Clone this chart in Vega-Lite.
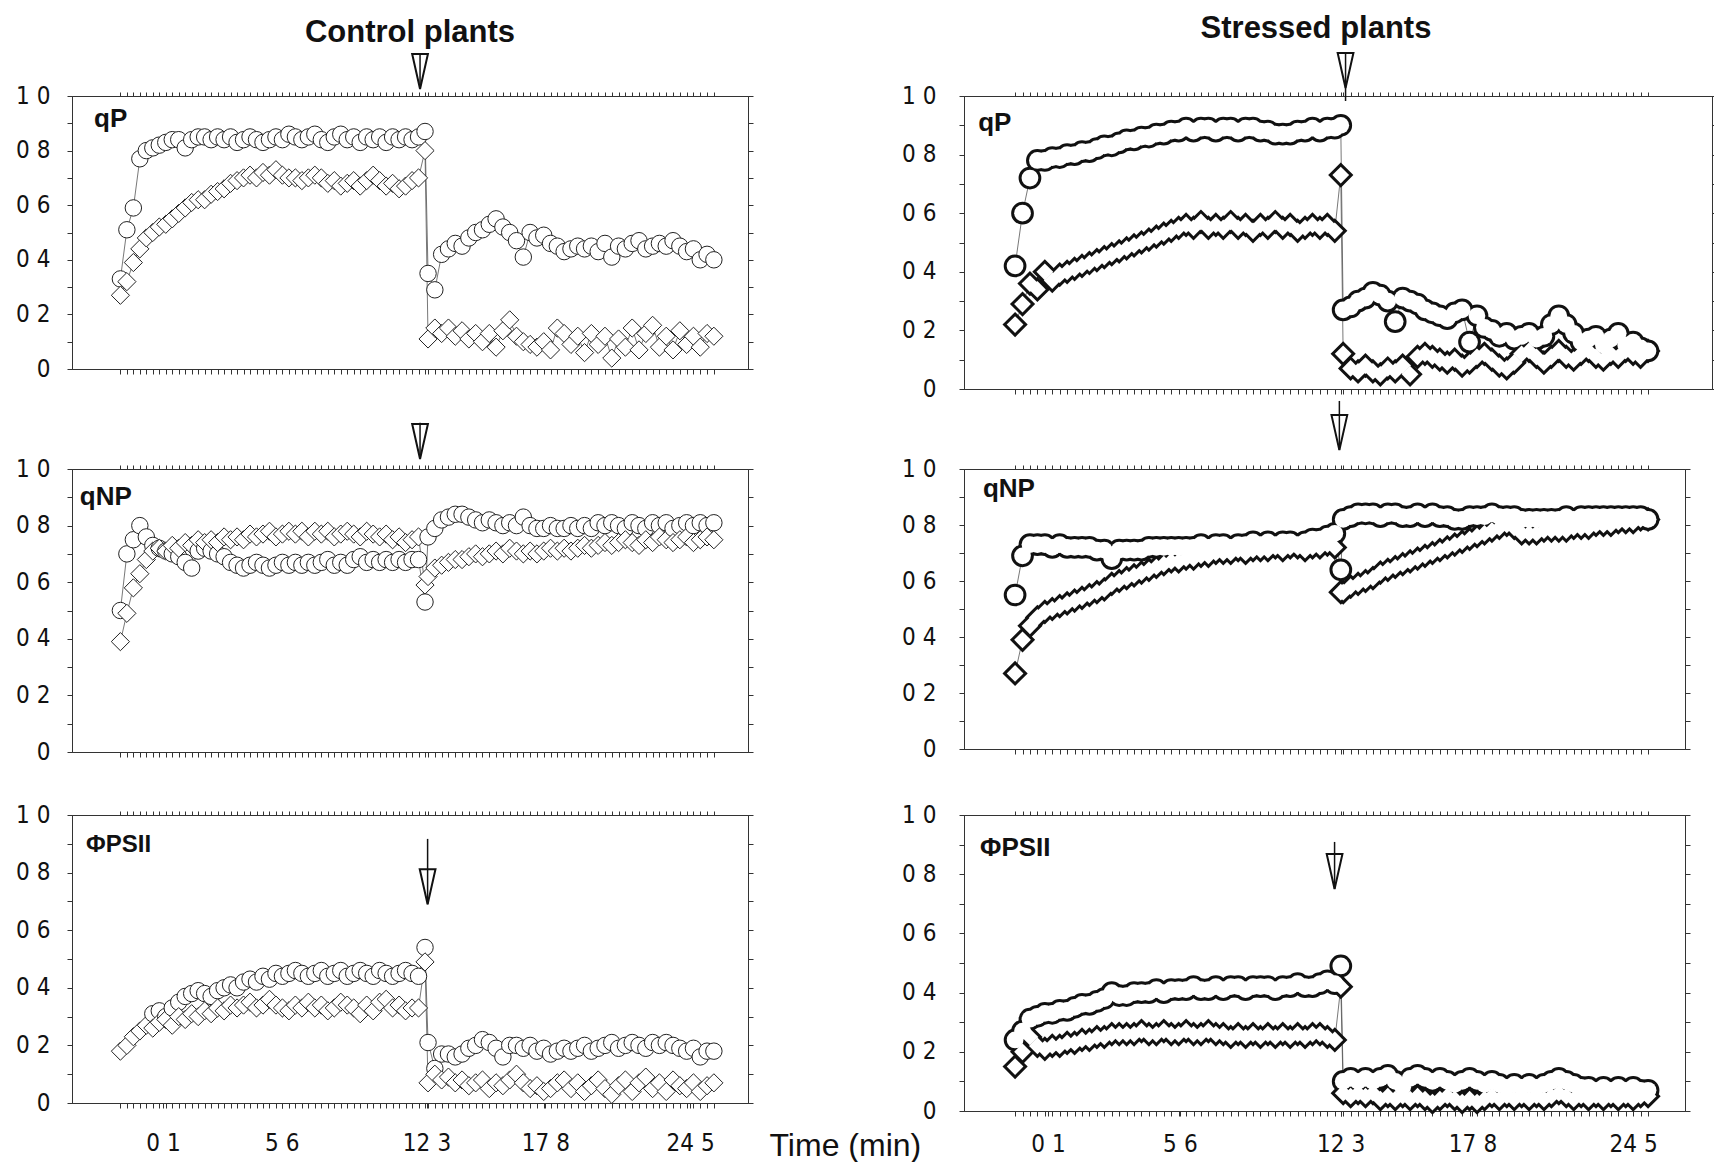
{
"$schema": "https://vega.github.io/schema/vega-lite/v6.json",
"autosize": {"type": "pad"},
"padding": {"left": 14, "top": 12, "right": 0, "bottom": 0},
"background": "white",
"config": {
 "view": {"stroke": "#333", "strokeWidth": 1},
 "axis": {"grid": false, "domainColor": "#333", "tickColor": "#333", "labelColor": "#111", "labelFont": "Liberation Sans Narrow, DejaVu Sans Condensed, Liberation Sans, sans-serif", "labelFontWeight": "normal", "labelOverlap": false, "labelFlush": false, "titleColor": "#111"}
},
"datasets": {
 "cqp": [
{"t":-1.87,"o":0.33,"d":0.27},{"t":-1.57,"o":0.51,"d":0.32},{"t":-1.27,"o":0.59,"d":0.39},{"t":-0.97,"o":0.77,"d":0.44},{"t":-0.67,"o":0.8,"d":0.48},{"t":-0.37,"o":0.81,"d":0.5},{"t":-0.07,"o":0.82,"d":0.52},{"t":0.23,"o":0.83,"d":0.53},{"t":0.53,"o":0.84,"d":0.55},{"t":0.83,"o":0.84,"d":0.57},{"t":1.13,"o":0.81,"d":0.59},{"t":1.43,"o":0.84,"d":0.61},{"t":1.73,"o":0.85,"d":0.62},{"t":2.03,"o":0.85,"d":0.62},{"t":2.33,"o":0.84,"d":0.64},{"t":2.63,"o":0.85,"d":0.65},{"t":2.93,"o":0.84,"d":0.66},{"t":3.23,"o":0.85,"d":0.68},{"t":3.53,"o":0.83,"d":0.69},{"t":3.83,"o":0.84,"d":0.7},{"t":4.13,"o":0.85,"d":0.71},{"t":4.43,"o":0.84,"d":0.7},{"t":4.73,"o":0.83,"d":0.72},{"t":5.03,"o":0.84,"d":0.71},{"t":5.33,"o":0.85,"d":0.73},{"t":5.63,"o":0.84,"d":0.71},{"t":5.93,"o":0.86,"d":0.7},{"t":6.23,"o":0.85,"d":0.7},{"t":6.53,"o":0.84,"d":0.69},{"t":6.83,"o":0.85,"d":0.7},{"t":7.13,"o":0.86,"d":0.71},{"t":7.43,"o":0.84,"d":0.7},{"t":7.73,"o":0.83,"d":0.68},{"t":8.03,"o":0.85,"d":0.69},{"t":8.33,"o":0.86,"d":0.67},{"t":8.63,"o":0.84,"d":0.68},{"t":8.93,"o":0.85,"d":0.69},{"t":9.23,"o":0.83,"d":0.67},{"t":9.53,"o":0.85,"d":0.69},{"t":9.83,"o":0.84,"d":0.71},{"t":10.13,"o":0.85,"d":0.69},{"t":10.43,"o":0.83,"d":0.67},{"t":10.73,"o":0.85,"d":0.68},{"t":11.03,"o":0.84,"d":0.66},{"t":11.33,"o":0.85,"d":0.67},{"t":11.63,"o":0.84,"d":0.69},{"t":11.93,"o":0.85,"d":0.7},{"t":12.23,"o":0.87,"d":0.8},
{"t":12.37,"o":0.35,"d":0.11},{"t":12.685,"o":0.29,"d":0.15},{"t":13.0,"o":0.42,"d":0.13},{"t":13.315,"o":0.44,"d":0.15},{"t":13.63,"o":0.46,"d":0.12},{"t":13.945,"o":0.45,"d":0.14},{"t":14.26,"o":0.48,"d":0.11},{"t":14.575,"o":0.5,"d":0.13},{"t":14.89,"o":0.51,"d":0.1},{"t":15.205,"o":0.53,"d":0.13},{"t":15.52,"o":0.55,"d":0.08},{"t":15.835,"o":0.52,"d":0.14},{"t":16.15,"o":0.5,"d":0.18},{"t":16.465,"o":0.47,"d":0.12},{"t":16.78,"o":0.41,"d":0.1},{"t":17.095,"o":0.5,"d":0.09},{"t":17.41,"o":0.48,"d":0.08},{"t":17.725,"o":0.49,"d":0.1},{"t":18.04,"o":0.46,"d":0.07},{"t":18.355,"o":0.45,"d":0.15},{"t":18.67,"o":0.43,"d":0.13},{"t":18.985,"o":0.44,"d":0.09},{"t":19.3,"o":0.45,"d":0.12},{"t":19.615,"o":0.44,"d":0.06},{"t":19.93,"o":0.45,"d":0.13},{"t":20.245,"o":0.43,"d":0.09},{"t":20.56,"o":0.46,"d":0.12},{"t":20.875,"o":0.41,"d":0.04},{"t":21.19,"o":0.45,"d":0.11},{"t":21.505,"o":0.44,"d":0.08},{"t":21.82,"o":0.46,"d":0.15},{"t":22.135,"o":0.47,"d":0.07},{"t":22.45,"o":0.44,"d":0.13},{"t":22.765,"o":0.45,"d":0.16},{"t":23.08,"o":0.46,"d":0.08},{"t":23.395,"o":0.45,"d":0.12},{"t":23.71,"o":0.47,"d":0.07},{"t":24.025,"o":0.45,"d":0.14},{"t":24.34,"o":0.43,"d":0.09},{"t":24.655,"o":0.44,"d":0.12},{"t":24.97,"o":0.4,"d":0.08},{"t":25.285,"o":0.42,"d":0.13},{"t":25.6,"o":0.4,"d":0.12}
 ],
 "cqnp": [
{"t":-1.87,"o":0.5,"d":0.39},{"t":-1.57,"o":0.7,"d":0.49},{"t":-1.27,"o":0.75,"d":0.58},{"t":-0.97,"o":0.8,"d":0.63},{"t":-0.67,"o":0.76,"d":0.68},{"t":-0.37,"o":0.73,"d":0.71},{"t":-0.07,"o":0.72,"d":0.72},{"t":0.23,"o":0.71,"d":0.71},{"t":0.53,"o":0.7,"d":0.73},{"t":0.83,"o":0.69,"d":0.72},{"t":1.13,"o":0.67,"d":0.74},{"t":1.43,"o":0.65,"d":0.73},{"t":1.73,"o":0.71,"d":0.75},{"t":2.03,"o":0.72,"d":0.74},{"t":2.33,"o":0.71,"d":0.75},{"t":2.63,"o":0.7,"d":0.74},{"t":2.93,"o":0.69,"d":0.76},{"t":3.23,"o":0.67,"d":0.75},{"t":3.53,"o":0.66,"d":0.76},{"t":3.83,"o":0.65,"d":0.75},{"t":4.13,"o":0.66,"d":0.77},{"t":4.43,"o":0.67,"d":0.76},{"t":4.73,"o":0.66,"d":0.77},{"t":5.03,"o":0.65,"d":0.78},{"t":5.33,"o":0.66,"d":0.76},{"t":5.63,"o":0.67,"d":0.77},{"t":5.93,"o":0.66,"d":0.78},{"t":6.23,"o":0.67,"d":0.77},{"t":6.53,"o":0.66,"d":0.78},{"t":6.83,"o":0.67,"d":0.76},{"t":7.13,"o":0.66,"d":0.78},{"t":7.43,"o":0.67,"d":0.77},{"t":7.73,"o":0.68,"d":0.78},{"t":8.03,"o":0.66,"d":0.76},{"t":8.33,"o":0.67,"d":0.77},{"t":8.63,"o":0.66,"d":0.78},{"t":8.93,"o":0.68,"d":0.77},{"t":9.23,"o":0.69,"d":0.76},{"t":9.53,"o":0.67,"d":0.78},{"t":9.83,"o":0.68,"d":0.77},{"t":10.13,"o":0.67,"d":0.76},{"t":10.43,"o":0.68,"d":0.77},{"t":10.73,"o":0.67,"d":0.75},{"t":11.03,"o":0.68,"d":0.76},{"t":11.33,"o":0.67,"d":0.74},{"t":11.63,"o":0.68,"d":0.75},{"t":11.93,"o":0.68,"d":0.76},{"t":12.23,"o":0.53,"d":0.59},
{"t":12.37,"o":0.76,"d":0.62},{"t":12.685,"o":0.79,"d":0.65},{"t":13.0,"o":0.82,"d":0.66},{"t":13.315,"o":0.83,"d":0.67},{"t":13.63,"o":0.84,"d":0.68},{"t":13.945,"o":0.84,"d":0.68},{"t":14.26,"o":0.83,"d":0.69},{"t":14.575,"o":0.82,"d":0.7},{"t":14.89,"o":0.81,"d":0.69},{"t":15.205,"o":0.82,"d":0.7},{"t":15.52,"o":0.81,"d":0.71},{"t":15.835,"o":0.8,"d":0.7},{"t":16.15,"o":0.81,"d":0.72},{"t":16.465,"o":0.8,"d":0.71},{"t":16.78,"o":0.83,"d":0.7},{"t":17.095,"o":0.8,"d":0.71},{"t":17.41,"o":0.79,"d":0.7},{"t":17.725,"o":0.79,"d":0.71},{"t":18.04,"o":0.8,"d":0.72},{"t":18.355,"o":0.79,"d":0.71},{"t":18.67,"o":0.79,"d":0.72},{"t":18.985,"o":0.8,"d":0.71},{"t":19.3,"o":0.79,"d":0.72},{"t":19.615,"o":0.8,"d":0.73},{"t":19.93,"o":0.79,"d":0.72},{"t":20.245,"o":0.81,"d":0.73},{"t":20.56,"o":0.8,"d":0.74},{"t":20.875,"o":0.81,"d":0.73},{"t":21.19,"o":0.8,"d":0.74},{"t":21.505,"o":0.79,"d":0.75},{"t":21.82,"o":0.81,"d":0.74},{"t":22.135,"o":0.8,"d":0.73},{"t":22.45,"o":0.79,"d":0.75},{"t":22.765,"o":0.81,"d":0.74},{"t":23.08,"o":0.8,"d":0.76},{"t":23.395,"o":0.81,"d":0.75},{"t":23.71,"o":0.79,"d":0.74},{"t":24.025,"o":0.8,"d":0.75},{"t":24.34,"o":0.81,"d":0.76},{"t":24.655,"o":0.8,"d":0.74},{"t":24.97,"o":0.81,"d":0.75},{"t":25.285,"o":0.8,"d":0.76},{"t":25.6,"o":0.81,"d":0.75}
 ],
 "cps": [
{"t":-1.87,"o":null,"d":0.18},{"t":-1.57,"o":null,"d":0.2},{"t":-1.27,"o":null,"d":0.23},{"t":-0.97,"o":null,"d":0.25},{"t":-0.67,"o":null,"d":0.27},{"t":-0.37,"o":0.31,"d":0.26},{"t":-0.07,"o":0.32,"d":0.28},{"t":0.23,"o":0.3,"d":0.29},{"t":0.53,"o":0.33,"d":0.27},{"t":0.83,"o":0.35,"d":0.3},{"t":1.13,"o":0.37,"d":0.29},{"t":1.43,"o":0.38,"d":0.31},{"t":1.73,"o":0.39,"d":0.3},{"t":2.03,"o":0.38,"d":0.32},{"t":2.33,"o":0.37,"d":0.31},{"t":2.63,"o":0.39,"d":0.33},{"t":2.93,"o":0.4,"d":0.32},{"t":3.23,"o":0.41,"d":0.34},{"t":3.53,"o":0.4,"d":0.33},{"t":3.83,"o":0.42,"d":0.34},{"t":4.13,"o":0.43,"d":0.35},{"t":4.43,"o":0.42,"d":0.33},{"t":4.73,"o":0.44,"d":0.34},{"t":5.03,"o":0.43,"d":0.36},{"t":5.33,"o":0.45,"d":0.34},{"t":5.63,"o":0.44,"d":0.33},{"t":5.93,"o":0.45,"d":0.32},{"t":6.23,"o":0.46,"d":0.34},{"t":6.53,"o":0.45,"d":0.33},{"t":6.83,"o":0.44,"d":0.35},{"t":7.13,"o":0.45,"d":0.33},{"t":7.43,"o":0.46,"d":0.34},{"t":7.73,"o":0.44,"d":0.32},{"t":8.03,"o":0.45,"d":0.33},{"t":8.33,"o":0.46,"d":0.35},{"t":8.63,"o":0.44,"d":0.34},{"t":8.93,"o":0.45,"d":0.33},{"t":9.23,"o":0.46,"d":0.31},{"t":9.53,"o":0.45,"d":0.34},{"t":9.83,"o":0.44,"d":0.32},{"t":10.13,"o":0.46,"d":0.35},{"t":10.43,"o":0.45,"d":0.36},{"t":10.73,"o":0.44,"d":0.33},{"t":11.03,"o":0.45,"d":0.34},{"t":11.33,"o":0.46,"d":0.32},{"t":11.63,"o":0.45,"d":0.33},{"t":11.93,"o":0.44,"d":0.33},{"t":12.23,"o":0.54,"d":0.49},
{"t":12.37,"o":0.21,"d":0.07},{"t":12.685,"o":0.12,"d":0.1},{"t":13.0,"o":0.17,"d":0.08},{"t":13.315,"o":0.17,"d":0.09},{"t":13.63,"o":0.16,"d":0.07},{"t":13.945,"o":0.17,"d":0.08},{"t":14.26,"o":0.19,"d":0.06},{"t":14.575,"o":0.2,"d":0.07},{"t":14.89,"o":0.22,"d":0.08},{"t":15.205,"o":0.21,"d":0.05},{"t":15.52,"o":0.19,"d":0.07},{"t":15.835,"o":0.16,"d":0.06},{"t":16.15,"o":0.2,"d":0.08},{"t":16.465,"o":0.2,"d":0.1},{"t":16.78,"o":0.19,"d":0.07},{"t":17.095,"o":0.2,"d":0.05},{"t":17.41,"o":0.18,"d":0.06},{"t":17.725,"o":0.19,"d":0.04},{"t":18.04,"o":0.17,"d":0.05},{"t":18.355,"o":0.18,"d":0.07},{"t":18.67,"o":0.19,"d":0.08},{"t":18.985,"o":0.18,"d":0.05},{"t":19.3,"o":0.19,"d":0.07},{"t":19.615,"o":0.2,"d":0.04},{"t":19.93,"o":0.18,"d":0.06},{"t":20.245,"o":0.19,"d":0.08},{"t":20.56,"o":0.2,"d":0.05},{"t":20.875,"o":0.21,"d":0.03},{"t":21.19,"o":0.19,"d":0.06},{"t":21.505,"o":0.2,"d":0.08},{"t":21.82,"o":0.21,"d":0.04},{"t":22.135,"o":0.2,"d":0.07},{"t":22.45,"o":0.19,"d":0.09},{"t":22.765,"o":0.21,"d":0.05},{"t":23.08,"o":0.2,"d":0.07},{"t":23.395,"o":0.21,"d":0.04},{"t":23.71,"o":0.2,"d":0.08},{"t":24.025,"o":0.19,"d":0.06},{"t":24.34,"o":0.18,"d":0.05},{"t":24.655,"o":0.19,"d":0.07},{"t":24.97,"o":0.16,"d":0.04},{"t":25.285,"o":0.18,"d":0.06},{"t":25.6,"o":0.18,"d":0.07}
 ],
 "sqp": [
{"t":-1.27,"o":0.42,"d":0.22},{"t":-0.96,"o":0.6,"d":0.29},{"t":-0.65,"o":0.72,"d":0.36},{"t":-0.34,"o":0.78,"d":0.34},{"t":-0.03,"o":0.78,"d":0.4},{"t":0.28,"o":0.79,"d":0.37},{"t":0.59,"o":0.79,"d":0.39},{"t":0.9,"o":0.8,"d":0.4},{"t":1.21,"o":0.8,"d":0.41},{"t":1.52,"o":0.81,"d":0.42},{"t":1.83,"o":0.81,"d":0.43},{"t":2.14,"o":0.82,"d":0.44},{"t":2.45,"o":0.83,"d":0.45},{"t":2.76,"o":0.83,"d":0.46},{"t":3.07,"o":0.84,"d":0.47},{"t":3.38,"o":0.85,"d":0.48},{"t":3.69,"o":0.85,"d":0.49},{"t":4.0,"o":0.86,"d":0.5},{"t":4.31,"o":0.86,"d":0.51},{"t":4.62,"o":0.87,"d":0.52},{"t":4.93,"o":0.87,"d":0.53},{"t":5.24,"o":0.88,"d":0.54},{"t":5.55,"o":0.88,"d":0.55},{"t":5.86,"o":0.89,"d":0.56},{"t":6.17,"o":0.88,"d":0.55},{"t":6.48,"o":0.89,"d":0.57},{"t":6.79,"o":0.89,"d":0.55},{"t":7.1,"o":0.88,"d":0.56},{"t":7.41,"o":0.89,"d":0.55},{"t":7.72,"o":0.89,"d":0.57},{"t":8.03,"o":0.88,"d":0.55},{"t":8.34,"o":0.89,"d":0.56},{"t":8.65,"o":0.89,"d":0.54},{"t":8.96,"o":0.88,"d":0.56},{"t":9.27,"o":0.88,"d":0.55},{"t":9.58,"o":0.87,"d":0.57},{"t":9.89,"o":0.87,"d":0.55},{"t":10.2,"o":0.87,"d":0.56},{"t":10.51,"o":0.88,"d":0.54},{"t":10.82,"o":0.88,"d":0.55},{"t":11.13,"o":0.89,"d":0.56},{"t":11.44,"o":0.88,"d":0.55},{"t":11.75,"o":0.89,"d":0.56},{"t":12.06,"o":0.89,"d":0.54},{"t":12.31,"o":0.9,"d":0.73},
{"t":12.41,"o":0.27,"d":0.12},{"t":12.72,"o":0.28,"d":0.07},{"t":13.03,"o":0.3,"d":0.06},{"t":13.34,"o":0.31,"d":0.08},{"t":13.65,"o":0.33,"d":0.06},{"t":13.96,"o":0.32,"d":0.05},{"t":14.27,"o":0.3,"d":0.07},{"t":14.58,"o":0.23,"d":0.06},{"t":14.89,"o":0.31,"d":0.08},{"t":15.2,"o":0.3,"d":0.05},{"t":15.51,"o":0.29,"d":0.11},{"t":15.82,"o":0.27,"d":0.12},{"t":16.13,"o":0.26,"d":0.11},{"t":16.44,"o":0.25,"d":0.1},{"t":16.75,"o":0.24,"d":0.09},{"t":17.06,"o":0.26,"d":0.1},{"t":17.37,"o":0.27,"d":0.08},{"t":17.68,"o":0.16,"d":0.09},{"t":17.99,"o":0.25,"d":0.11},{"t":18.3,"o":0.21,"d":0.12},{"t":18.61,"o":0.2,"d":0.1},{"t":18.92,"o":0.18,"d":0.08},{"t":19.23,"o":0.19,"d":0.07},{"t":19.54,"o":0.17,"d":0.09},{"t":19.85,"o":0.18,"d":0.12},{"t":20.16,"o":0.19,"d":0.13},{"t":20.47,"o":0.17,"d":0.11},{"t":20.78,"o":0.18,"d":0.09},{"t":21.09,"o":0.22,"d":0.11},{"t":21.4,"o":0.25,"d":0.13},{"t":21.71,"o":0.22,"d":0.11},{"t":22.02,"o":0.19,"d":0.1},{"t":22.33,"o":0.16,"d":0.12},{"t":22.64,"o":0.17,"d":0.13},{"t":22.95,"o":0.18,"d":0.11},{"t":23.26,"o":0.15,"d":0.1},{"t":23.57,"o":0.17,"d":0.12},{"t":23.88,"o":0.19,"d":0.11},{"t":24.19,"o":0.15,"d":0.13},{"t":24.5,"o":0.16,"d":0.12},{"t":24.81,"o":0.14,"d":0.11},{"t":25.12,"o":0.13,"d":0.13}
 ],
 "sqnp": [
{"t":-1.27,"o":0.55,"d":0.27},{"t":-0.96,"o":0.69,"d":0.39},{"t":-0.65,"o":0.73,"d":0.44},{"t":-0.34,"o":0.73,"d":0.47},{"t":-0.03,"o":0.73,"d":0.49},{"t":0.28,"o":0.72,"d":0.5},{"t":0.59,"o":0.73,"d":0.51},{"t":0.9,"o":0.72,"d":0.52},{"t":1.21,"o":0.72,"d":0.53},{"t":1.52,"o":0.72,"d":0.54},{"t":1.83,"o":0.72,"d":0.55},{"t":2.14,"o":0.71,"d":0.56},{"t":2.45,"o":0.71,"d":0.57},{"t":2.76,"o":0.68,"d":0.59},{"t":3.07,"o":0.71,"d":0.6},{"t":3.38,"o":0.71,"d":0.61},{"t":3.69,"o":0.71,"d":0.62},{"t":4.0,"o":0.71,"d":0.63},{"t":4.31,"o":0.72,"d":0.64},{"t":4.62,"o":0.72,"d":0.65},{"t":4.93,"o":0.72,"d":0.66},{"t":5.24,"o":0.72,"d":0.67},{"t":5.55,"o":0.72,"d":0.67},{"t":5.86,"o":0.72,"d":0.68},{"t":6.17,"o":0.72,"d":0.68},{"t":6.48,"o":0.73,"d":0.69},{"t":6.79,"o":0.72,"d":0.69},{"t":7.1,"o":0.73,"d":0.7},{"t":7.41,"o":0.73,"d":0.7},{"t":7.72,"o":0.72,"d":0.7},{"t":8.03,"o":0.73,"d":0.71},{"t":8.34,"o":0.73,"d":0.7},{"t":8.65,"o":0.74,"d":0.71},{"t":8.96,"o":0.73,"d":0.71},{"t":9.27,"o":0.74,"d":0.71},{"t":9.58,"o":0.73,"d":0.72},{"t":9.89,"o":0.74,"d":0.71},{"t":10.2,"o":0.74,"d":0.72},{"t":10.51,"o":0.73,"d":0.72},{"t":10.82,"o":0.74,"d":0.71},{"t":11.13,"o":0.75,"d":0.72},{"t":11.44,"o":0.75,"d":0.72},{"t":11.75,"o":0.76,"d":0.73},{"t":12.06,"o":0.77,"d":0.72},{"t":12.31,"o":0.64,"d":0.56},
{"t":12.41,"o":0.82,"d":0.56},{"t":12.72,"o":0.83,"d":0.58},{"t":13.03,"o":0.84,"d":0.59},{"t":13.34,"o":0.84,"d":0.6},{"t":13.65,"o":0.84,"d":0.61},{"t":13.96,"o":0.83,"d":0.63},{"t":14.27,"o":0.84,"d":0.64},{"t":14.58,"o":0.84,"d":0.65},{"t":14.89,"o":0.83,"d":0.66},{"t":15.2,"o":0.83,"d":0.67},{"t":15.51,"o":0.84,"d":0.68},{"t":15.82,"o":0.83,"d":0.69},{"t":16.13,"o":0.84,"d":0.7},{"t":16.44,"o":0.83,"d":0.71},{"t":16.75,"o":0.83,"d":0.72},{"t":17.06,"o":0.82,"d":0.73},{"t":17.37,"o":0.82,"d":0.74},{"t":17.68,"o":0.83,"d":0.75},{"t":17.99,"o":0.83,"d":0.76},{"t":18.3,"o":0.83,"d":0.77},{"t":18.61,"o":0.84,"d":0.78},{"t":18.92,"o":0.83,"d":0.79},{"t":19.23,"o":0.83,"d":0.8},{"t":19.54,"o":0.83,"d":0.79},{"t":19.85,"o":0.82,"d":0.77},{"t":20.16,"o":0.82,"d":0.77},{"t":20.47,"o":0.82,"d":0.77},{"t":20.78,"o":0.82,"d":0.78},{"t":21.09,"o":0.82,"d":0.78},{"t":21.4,"o":0.82,"d":0.78},{"t":21.71,"o":0.83,"d":0.78},{"t":22.02,"o":0.82,"d":0.79},{"t":22.33,"o":0.83,"d":0.79},{"t":22.64,"o":0.83,"d":0.79},{"t":22.95,"o":0.83,"d":0.8},{"t":23.26,"o":0.83,"d":0.8},{"t":23.57,"o":0.83,"d":0.8},{"t":23.88,"o":0.83,"d":0.81},{"t":24.19,"o":0.83,"d":0.81},{"t":24.5,"o":0.83,"d":0.81},{"t":24.81,"o":0.83,"d":0.82},{"t":25.12,"o":0.82,"d":0.82}
 ],
 "sps": [
{"t":-1.27,"o":0.24,"d":0.15},{"t":-0.96,"o":0.27,"d":0.2},{"t":-0.65,"o":0.31,"d":0.25},{"t":-0.34,"o":0.32,"d":0.22},{"t":-0.03,"o":0.33,"d":0.21},{"t":0.28,"o":0.33,"d":0.22},{"t":0.59,"o":0.34,"d":0.22},{"t":0.9,"o":0.34,"d":0.23},{"t":1.21,"o":0.35,"d":0.23},{"t":1.52,"o":0.36,"d":0.24},{"t":1.83,"o":0.36,"d":0.24},{"t":2.14,"o":0.37,"d":0.25},{"t":2.45,"o":0.38,"d":0.25},{"t":2.76,"o":0.4,"d":0.26},{"t":3.07,"o":0.39,"d":0.26},{"t":3.38,"o":0.39,"d":0.26},{"t":3.69,"o":0.4,"d":0.26},{"t":4.0,"o":0.4,"d":0.27},{"t":4.31,"o":0.4,"d":0.26},{"t":4.62,"o":0.41,"d":0.26},{"t":4.93,"o":0.4,"d":0.27},{"t":5.24,"o":0.41,"d":0.26},{"t":5.55,"o":0.41,"d":0.26},{"t":5.86,"o":0.41,"d":0.27},{"t":6.17,"o":0.42,"d":0.26},{"t":6.48,"o":0.41,"d":0.26},{"t":6.79,"o":0.41,"d":0.27},{"t":7.1,"o":0.42,"d":0.26},{"t":7.41,"o":0.41,"d":0.26},{"t":7.72,"o":0.42,"d":0.25},{"t":8.03,"o":0.42,"d":0.26},{"t":8.34,"o":0.41,"d":0.25},{"t":8.65,"o":0.42,"d":0.26},{"t":8.96,"o":0.42,"d":0.25},{"t":9.27,"o":0.42,"d":0.26},{"t":9.58,"o":0.41,"d":0.25},{"t":9.89,"o":0.42,"d":0.26},{"t":10.2,"o":0.42,"d":0.25},{"t":10.51,"o":0.43,"d":0.26},{"t":10.82,"o":0.42,"d":0.25},{"t":11.13,"o":0.42,"d":0.26},{"t":11.44,"o":0.43,"d":0.26},{"t":11.75,"o":0.44,"d":0.25},{"t":12.06,"o":0.43,"d":0.24},{"t":12.31,"o":0.49,"d":0.42},
{"t":12.41,"o":0.1,"d":0.06},{"t":12.72,"o":0.11,"d":0.05},{"t":13.03,"o":0.1,"d":0.06},{"t":13.34,"o":0.11,"d":0.05},{"t":13.65,"o":0.1,"d":0.06},{"t":13.96,"o":0.11,"d":0.04},{"t":14.27,"o":0.12,"d":0.05},{"t":14.58,"o":0.1,"d":0.04},{"t":14.89,"o":0.08,"d":0.05},{"t":15.2,"o":0.11,"d":0.04},{"t":15.51,"o":0.12,"d":0.05},{"t":15.82,"o":0.11,"d":0.04},{"t":16.13,"o":0.1,"d":0.03},{"t":16.44,"o":0.11,"d":0.04},{"t":16.75,"o":0.1,"d":0.05},{"t":17.06,"o":0.09,"d":0.04},{"t":17.37,"o":0.1,"d":0.03},{"t":17.68,"o":0.11,"d":0.04},{"t":17.99,"o":0.1,"d":0.03},{"t":18.3,"o":0.09,"d":0.04},{"t":18.61,"o":0.1,"d":0.05},{"t":18.92,"o":0.09,"d":0.04},{"t":19.23,"o":0.08,"d":0.05},{"t":19.54,"o":0.09,"d":0.04},{"t":19.85,"o":0.08,"d":0.05},{"t":20.16,"o":0.09,"d":0.04},{"t":20.47,"o":0.08,"d":0.05},{"t":20.78,"o":0.09,"d":0.04},{"t":21.09,"o":0.1,"d":0.05},{"t":21.4,"o":0.11,"d":0.06},{"t":21.71,"o":0.1,"d":0.05},{"t":22.02,"o":0.09,"d":0.04},{"t":22.33,"o":0.08,"d":0.05},{"t":22.64,"o":0.08,"d":0.04},{"t":22.95,"o":0.07,"d":0.05},{"t":23.26,"o":0.08,"d":0.04},{"t":23.57,"o":0.07,"d":0.05},{"t":23.88,"o":0.08,"d":0.04},{"t":24.19,"o":0.07,"d":0.05},{"t":24.5,"o":0.08,"d":0.04},{"t":24.81,"o":0.07,"d":0.05},{"t":25.12,"o":0.07,"d":0.05}
 ]
},
"columns": 2,
"spacing": {"row": 5, "column": 216},
"bounds": "flush",
"concat": [
 {
  "width": 676, "height": 273,
  "title": {"text": "Control plants", "font": "Liberation Sans", "fontSize": 31, "fontWeight": "bold", "anchor": "middle", "frame": "group", "offset": 1, "color": "#111"},
  "data": {"name": "cqp"},
  "transform": [{"fold": ["o", "d"], "as": ["s", "y"]}],
  "layer": [
   {"mark": {"type": "line", "stroke": "#555", "strokeWidth": 0.8},
    "encoding": {
     "x": {"field": "t", "type": "quantitative", "scale": {"domain": [-4.11, 27.18], "nice": false, "zero": false}, "axis": {"orient": "bottom", "values": [-1.87,-1.57,-1.27,-0.97,-0.67,-0.37,-0.07,0.23,0.53,0.83,1.13,1.43,1.73,2.03,2.33,2.63,2.93,3.23,3.53,3.83,4.13,4.43,4.73,5.03,5.33,5.63,5.93,6.23,6.53,6.83,7.13,7.43,7.73,8.03,8.33,8.63,8.93,9.23,9.53,9.83,10.13,10.43,10.73,11.03,11.33,11.63,11.93,12.23,12.37,12.685,13.0,13.315,13.63,13.945,14.26,14.575,14.89,15.205,15.52,15.835,16.15,16.465,16.78,17.095,17.41,17.725,18.04,18.355,18.67,18.985,19.3,19.615,19.93,20.245,20.56,20.875,21.19,21.505,21.82,22.135,22.45,22.765,23.08,23.395,23.71,24.025,24.34,24.655,24.97,25.285,25.6], "labels": false, "tickSize": 5, "title": null}},
     "y": {"field": "y", "type": "quantitative", "scale": {"domain": [0, 1], "nice": false, "zero": false}, "axis": {"orient": "left", "values": [0,0.1,0.2,0.3,0.4,0.5,0.6,0.7,0.8,0.9,1], "tickSize": 5, "labelPadding": 17, "labelFontSize": 24, "labelExpr": "datum.value == 0 ? '0' : (round(datum.value * 10) % 2 == 0 ? replace(format(datum.value, '.1f'), '.', '\u2004') : '')", "title": null}},
     "detail": {"field": "s", "type": "nominal"}}},
   {"mark": {"type": "point", "filled": true, "fill": "white", "stroke": "#222", "strokeWidth": 1, "opacity": 1},
    "encoding": {
     "x": {"field": "t", "type": "quantitative", "scale": {"domain": [-4.11, 27.18], "nice": false, "zero": false}, "axis": {"orient": "top", "values": [-1.87,-1.57,-1.27,-0.97,-0.67,-0.37,-0.07,0.23,0.53,0.83,1.13,1.43,1.73,2.03,2.33,2.63,2.93,3.23,3.53,3.83,4.13,4.43,4.73,5.03,5.33,5.63,5.93,6.23,6.53,6.83,7.13,7.43,7.73,8.03,8.33,8.63,8.93,9.23,9.53,9.83,10.13,10.43,10.73,11.03,11.33,11.63,11.93,12.23,12.37,12.685,13.0,13.315,13.63,13.945,14.26,14.575,14.89,15.205,15.52,15.835,16.15,16.465,16.78,17.095,17.41,17.725,18.04,18.355,18.67,18.985,19.3,19.615,19.93,20.245,20.56,20.875,21.19,21.505,21.82,22.135,22.45,22.765,23.08,23.395,23.71,24.025,24.34,24.655,24.97,25.285,25.6], "labels": false, "tickSize": 4, "title": null}},
     "y": {"field": "y", "type": "quantitative", "scale": {"domain": [0, 1], "nice": false, "zero": false}, "axis": {"orient": "right", "values": [0,0.1,0.2,0.3,0.4,0.5,0.6,0.7,0.8,0.9,1], "labels": false, "tickSize": 5, "title": null}},
     "shape": {"field": "s", "type": "nominal", "scale": {"domain": ["o", "d"], "range": ["circle", "diamond"]}, "legend": null},
     "size": {"field": "s", "type": "nominal", "scale": {"domain": ["o", "d"], "range": [270, 330]}, "legend": null}}},
   {"data": {"values": [{"t": -3.09, "y": 0.915, "label": "qP"}]},
    "mark": {"type": "text", "align": "left", "baseline": "middle", "font": "Liberation Sans", "fontSize": 26, "fontWeight": "bold", "color": "#111"},
    "encoding": {"x": {"field": "t", "type": "quantitative", "scale": {"domain": [-4.11, 27.18], "nice": false, "zero": false}, "axis": null}, "y": {"field": "y", "type": "quantitative", "scale": {"domain": [0, 1], "nice": false, "zero": false}, "axis": null}, "text": {"field": "label"}}},
   {"data": {"values": [{"t": 12.0, "y1": 1.154, "y2": 1.026, "yh": 1.09}]},
    "mark": {"type": "rule", "stroke": "#111", "strokeWidth": 1.5},
    "encoding": {"x": {"field": "t", "type": "quantitative", "scale": {"domain": [-4.11, 27.18], "nice": false, "zero": false}, "axis": null}, "y": {"field": "y1", "type": "quantitative", "scale": {"domain": [0, 1], "nice": false, "zero": false}, "axis": null}, "y2": {"field": "y2"}}},
   {"data": {"values": [{"t": 12.0, "y1": 1.154, "y2": 1.026, "yh": 1.09}]},
    "mark": {"type": "point", "shape": "M-0.45,-1L0.45,-1L0,1Z", "size": 1225, "filled": false, "stroke": "#111", "strokeWidth": 2, "opacity": 1},
    "encoding": {"x": {"field": "t", "type": "quantitative", "scale": {"domain": [-4.11, 27.18], "nice": false, "zero": false}, "axis": null}, "y": {"field": "yh", "type": "quantitative", "scale": {"domain": [0, 1], "nice": false, "zero": false}, "axis": null}}}
  ],
  "resolve": {"axis": {"x": "independent", "y": "independent"}}
 },
 {
  "width": 748, "height": 293,
  "title": {"text": "Stressed plants", "font": "Liberation Sans", "fontSize": 31, "fontWeight": "bold", "anchor": "middle", "frame": "group", "offset": 4, "dx": -22, "color": "#111"},
  "data": {"name": "sqp"},
  "transform": [{"fold": ["o", "d"], "as": ["s", "y"]}],
  "layer": [
   {"mark": {"type": "line", "stroke": "#555", "strokeWidth": 0.8},
    "encoding": {
     "x": {"field": "t", "type": "quantitative", "scale": {"domain": [-3.4, 27.79], "nice": false, "zero": false}, "axis": {"orient": "bottom", "values": [-1.27,-0.96,-0.65,-0.34,-0.03,0.28,0.59,0.9,1.21,1.52,1.83,2.14,2.45,2.76,3.07,3.38,3.69,4.0,4.31,4.62,4.93,5.24,5.55,5.86,6.17,6.48,6.79,7.1,7.41,7.72,8.03,8.34,8.65,8.96,9.27,9.58,9.89,10.2,10.51,10.82,11.13,11.44,11.75,12.06,12.31,12.41,12.72,13.03,13.34,13.65,13.96,14.27,14.58,14.89,15.2,15.51,15.82,16.13,16.44,16.75,17.06,17.37,17.68,17.99,18.3,18.61,18.92,19.23,19.54,19.85,20.16,20.47,20.78,21.09,21.4,21.71,22.02,22.33,22.64,22.95,23.26,23.57,23.88,24.19,24.5,24.81,25.12], "labels": false, "tickSize": 5, "title": null}},
     "y": {"field": "y", "type": "quantitative", "scale": {"domain": [0, 1], "nice": false, "zero": false}, "axis": {"orient": "left", "values": [0,0.1,0.2,0.3,0.4,0.5,0.6,0.7,0.8,0.9,1], "tickSize": 5, "labelPadding": 23, "labelFontSize": 24, "labelExpr": "datum.value == 0 ? '0' : (round(datum.value * 10) % 2 == 0 ? replace(format(datum.value, '.1f'), '.', '\u2004') : '')", "title": null}},
     "detail": {"field": "s", "type": "nominal"}}},
   {"mark": {"type": "point", "filled": true, "fill": "#111", "stroke": "#111", "strokeWidth": 6, "opacity": 1, "size": 280},
    "encoding": {
     "x": {"field": "t", "type": "quantitative", "scale": {"domain": [-3.4, 27.79], "nice": false, "zero": false}, "axis": {"orient": "top", "values": [-1.27,-0.96,-0.65,-0.34,-0.03,0.28,0.59,0.9,1.21,1.52,1.83,2.14,2.45,2.76,3.07,3.38,3.69,4.0,4.31,4.62,4.93,5.24,5.55,5.86,6.17,6.48,6.79,7.1,7.41,7.72,8.03,8.34,8.65,8.96,9.27,9.58,9.89,10.2,10.51,10.82,11.13,11.44,11.75,12.06,12.31,12.41,12.72,13.03,13.34,13.65,13.96,14.27,14.58,14.89,15.2,15.51,15.82,16.13,16.44,16.75,17.06,17.37,17.68,17.99,18.3,18.61,18.92,19.23,19.54,19.85,20.16,20.47,20.78,21.09,21.4,21.71,22.02,22.33,22.64,22.95,23.26,23.57,23.88,24.19,24.5,24.81,25.12], "labels": false, "tickSize": 4, "title": null}},
     "y": {"field": "y", "type": "quantitative", "scale": {"domain": [0, 1], "nice": false, "zero": false}, "axis": {"orient": "right", "values": [0,0.1,0.2,0.3,0.4,0.5,0.6,0.7,0.8,0.9,1], "labels": false, "tickSize": 4, "title": null}},
     "shape": {"field": "s", "type": "nominal", "scale": {"domain": ["o", "d"], "range": ["M-1,0A1,0.75,0,1,1,1,0A1,0.75,0,1,1,-1,0Z", "M-1,0L0,-0.9L1,0L0,0.9Z"]}, "legend": null}}},
   {"mark": {"type": "point", "filled": true, "fill": "white", "strokeWidth": 0, "opacity": 1, "size": 280},
    "encoding": {
     "x": {"field": "t", "type": "quantitative", "scale": {"domain": [-3.4, 27.79], "nice": false, "zero": false}, "axis": null},
     "y": {"field": "y", "type": "quantitative", "scale": {"domain": [0, 1], "nice": false, "zero": false}, "axis": null},
     "shape": {"field": "s", "type": "nominal", "scale": {"domain": ["o", "d"], "range": ["M-1,0A1,0.75,0,1,1,1,0A1,0.75,0,1,1,-1,0Z", "M-1,0L0,-0.9L1,0L0,0.9Z"]}, "legend": null}}},
   {"data": {"values": [{"t": -2.81, "y": 0.907, "label": "qP"}]},
    "mark": {"type": "text", "align": "left", "baseline": "middle", "font": "Liberation Sans", "fontSize": 26, "fontWeight": "bold", "color": "#111"},
    "encoding": {"x": {"field": "t", "type": "quantitative", "scale": {"domain": [-3.4, 27.79], "nice": false, "zero": false}, "axis": null}, "y": {"field": "y", "type": "quantitative", "scale": {"domain": [0, 1], "nice": false, "zero": false}, "axis": null}, "text": {"field": "label"}}},
   {"data": {"values": [{"t": 12.51, "y1": 1.147, "y2": 0.983, "yh": 1.087}]},
    "mark": {"type": "rule", "stroke": "#111", "strokeWidth": 1.5},
    "encoding": {"x": {"field": "t", "type": "quantitative", "scale": {"domain": [-3.4, 27.79], "nice": false, "zero": false}, "axis": null}, "y": {"field": "y1", "type": "quantitative", "scale": {"domain": [0, 1], "nice": false, "zero": false}, "axis": null}, "y2": {"field": "y2"}}},
   {"data": {"values": [{"t": 12.51, "y1": 1.147, "y2": 0.983, "yh": 1.087}]},
    "mark": {"type": "point", "shape": "M-0.45,-1L0.45,-1L0,1Z", "size": 1225, "filled": false, "stroke": "#111", "strokeWidth": 2, "opacity": 1},
    "encoding": {"x": {"field": "t", "type": "quantitative", "scale": {"domain": [-3.4, 27.79], "nice": false, "zero": false}, "axis": null}, "y": {"field": "yh", "type": "quantitative", "scale": {"domain": [0, 1], "nice": false, "zero": false}, "axis": null}}}
  ],
  "resolve": {"axis": {"x": "independent", "y": "independent"}}
 },
 {"width": 10, "height": 70, "data": {"values": [{"a": 1}]}, "mark": {"type": "point", "opacity": 0}, "encoding": {}, "view": {"stroke": null}},
 {"width": 10, "height": 70, "data": {"values": [{"a": 1}]}, "mark": {"type": "point", "opacity": 0}, "encoding": {}, "view": {"stroke": null}},
 {
  "width": 676, "height": 283,
  "data": {"name": "cqnp"},
  "transform": [{"fold": ["o", "d"], "as": ["s", "y"]}],
  "layer": [
   {"mark": {"type": "line", "stroke": "#555", "strokeWidth": 0.8},
    "encoding": {
     "x": {"field": "t", "type": "quantitative", "scale": {"domain": [-4.11, 27.18], "nice": false, "zero": false}, "axis": {"orient": "bottom", "values": [-1.87,-1.57,-1.27,-0.97,-0.67,-0.37,-0.07,0.23,0.53,0.83,1.13,1.43,1.73,2.03,2.33,2.63,2.93,3.23,3.53,3.83,4.13,4.43,4.73,5.03,5.33,5.63,5.93,6.23,6.53,6.83,7.13,7.43,7.73,8.03,8.33,8.63,8.93,9.23,9.53,9.83,10.13,10.43,10.73,11.03,11.33,11.63,11.93,12.23,12.37,12.685,13.0,13.315,13.63,13.945,14.26,14.575,14.89,15.205,15.52,15.835,16.15,16.465,16.78,17.095,17.41,17.725,18.04,18.355,18.67,18.985,19.3,19.615,19.93,20.245,20.56,20.875,21.19,21.505,21.82,22.135,22.45,22.765,23.08,23.395,23.71,24.025,24.34,24.655,24.97,25.285,25.6], "labels": false, "tickSize": 5, "title": null}},
     "y": {"field": "y", "type": "quantitative", "scale": {"domain": [0, 1], "nice": false, "zero": false}, "axis": {"orient": "left", "values": [0,0.1,0.2,0.3,0.4,0.5,0.6,0.7,0.8,0.9,1], "tickSize": 5, "labelPadding": 17, "labelFontSize": 24, "labelExpr": "datum.value == 0 ? '0' : (round(datum.value * 10) % 2 == 0 ? replace(format(datum.value, '.1f'), '.', '\u2004') : '')", "title": null}},
     "detail": {"field": "s", "type": "nominal"}}},
   {"mark": {"type": "point", "filled": true, "fill": "white", "stroke": "#222", "strokeWidth": 1, "opacity": 1},
    "encoding": {
     "x": {"field": "t", "type": "quantitative", "scale": {"domain": [-4.11, 27.18], "nice": false, "zero": false}, "axis": {"orient": "top", "values": [-1.87,-1.57,-1.27,-0.97,-0.67,-0.37,-0.07,0.23,0.53,0.83,1.13,1.43,1.73,2.03,2.33,2.63,2.93,3.23,3.53,3.83,4.13,4.43,4.73,5.03,5.33,5.63,5.93,6.23,6.53,6.83,7.13,7.43,7.73,8.03,8.33,8.63,8.93,9.23,9.53,9.83,10.13,10.43,10.73,11.03,11.33,11.63,11.93,12.23,12.37,12.685,13.0,13.315,13.63,13.945,14.26,14.575,14.89,15.205,15.52,15.835,16.15,16.465,16.78,17.095,17.41,17.725,18.04,18.355,18.67,18.985,19.3,19.615,19.93,20.245,20.56,20.875,21.19,21.505,21.82,22.135,22.45,22.765,23.08,23.395,23.71,24.025,24.34,24.655,24.97,25.285,25.6], "labels": false, "tickSize": 4, "title": null}},
     "y": {"field": "y", "type": "quantitative", "scale": {"domain": [0, 1], "nice": false, "zero": false}, "axis": {"orient": "right", "values": [0,0.1,0.2,0.3,0.4,0.5,0.6,0.7,0.8,0.9,1], "labels": false, "tickSize": 5, "title": null}},
     "shape": {"field": "s", "type": "nominal", "scale": {"domain": ["o", "d"], "range": ["circle", "diamond"]}, "legend": null},
     "size": {"field": "s", "type": "nominal", "scale": {"domain": ["o", "d"], "range": [270, 330]}, "legend": null}}},
   {"data": {"values": [{"t": -3.75, "y": 0.9, "label": "qNP"}]},
    "mark": {"type": "text", "align": "left", "baseline": "middle", "font": "Liberation Sans", "fontSize": 26, "fontWeight": "bold", "color": "#111"},
    "encoding": {"x": {"field": "t", "type": "quantitative", "scale": {"domain": [-4.11, 27.18], "nice": false, "zero": false}, "axis": null}, "y": {"field": "y", "type": "quantitative", "scale": {"domain": [0, 1], "nice": false, "zero": false}, "axis": null}, "text": {"field": "label"}}},
   {"data": {"values": [{"t": 12.0, "y1": 1.163, "y2": 1.035, "yh": 1.097}]},
    "mark": {"type": "rule", "stroke": "#111", "strokeWidth": 1.5},
    "encoding": {"x": {"field": "t", "type": "quantitative", "scale": {"domain": [-4.11, 27.18], "nice": false, "zero": false}, "axis": null}, "y": {"field": "y1", "type": "quantitative", "scale": {"domain": [0, 1], "nice": false, "zero": false}, "axis": null}, "y2": {"field": "y2"}}},
   {"data": {"values": [{"t": 12.0, "y1": 1.163, "y2": 1.035, "yh": 1.097}]},
    "mark": {"type": "point", "shape": "M-0.45,-1L0.45,-1L0,1Z", "size": 1225, "filled": false, "stroke": "#111", "strokeWidth": 2, "opacity": 1},
    "encoding": {"x": {"field": "t", "type": "quantitative", "scale": {"domain": [-4.11, 27.18], "nice": false, "zero": false}, "axis": null}, "y": {"field": "yh", "type": "quantitative", "scale": {"domain": [0, 1], "nice": false, "zero": false}, "axis": null}}}
  ],
  "resolve": {"axis": {"x": "independent", "y": "independent"}}
 },
 {
  "width": 721, "height": 280,
  "data": {"name": "sqnp"},
  "transform": [{"fold": ["o", "d"], "as": ["s", "y"]}],
  "layer": [
   {"mark": {"type": "line", "stroke": "#555", "strokeWidth": 0.8},
    "encoding": {
     "x": {"field": "t", "type": "quantitative", "scale": {"domain": [-3.4, 26.66], "nice": false, "zero": false}, "axis": {"orient": "bottom", "values": [-1.27,-0.96,-0.65,-0.34,-0.03,0.28,0.59,0.9,1.21,1.52,1.83,2.14,2.45,2.76,3.07,3.38,3.69,4.0,4.31,4.62,4.93,5.24,5.55,5.86,6.17,6.48,6.79,7.1,7.41,7.72,8.03,8.34,8.65,8.96,9.27,9.58,9.89,10.2,10.51,10.82,11.13,11.44,11.75,12.06,12.31,12.41,12.72,13.03,13.34,13.65,13.96,14.27,14.58,14.89,15.2,15.51,15.82,16.13,16.44,16.75,17.06,17.37,17.68,17.99,18.3,18.61,18.92,19.23,19.54,19.85,20.16,20.47,20.78,21.09,21.4,21.71,22.02,22.33,22.64,22.95,23.26,23.57,23.88,24.19,24.5,24.81,25.12], "labels": false, "tickSize": 5, "title": null}},
     "y": {"field": "y", "type": "quantitative", "scale": {"domain": [0, 1], "nice": false, "zero": false}, "axis": {"orient": "left", "values": [0,0.1,0.2,0.3,0.4,0.5,0.6,0.7,0.8,0.9,1], "tickSize": 5, "labelPadding": 23, "labelFontSize": 24, "labelExpr": "datum.value == 0 ? '0' : (round(datum.value * 10) % 2 == 0 ? replace(format(datum.value, '.1f'), '.', '\u2004') : '')", "title": null}},
     "detail": {"field": "s", "type": "nominal"}}},
   {"mark": {"type": "point", "filled": true, "fill": "#111", "stroke": "#111", "strokeWidth": 6, "opacity": 1, "size": 280},
    "encoding": {
     "x": {"field": "t", "type": "quantitative", "scale": {"domain": [-3.4, 26.66], "nice": false, "zero": false}, "axis": {"orient": "top", "values": [-1.27,-0.96,-0.65,-0.34,-0.03,0.28,0.59,0.9,1.21,1.52,1.83,2.14,2.45,2.76,3.07,3.38,3.69,4.0,4.31,4.62,4.93,5.24,5.55,5.86,6.17,6.48,6.79,7.1,7.41,7.72,8.03,8.34,8.65,8.96,9.27,9.58,9.89,10.2,10.51,10.82,11.13,11.44,11.75,12.06,12.31,12.41,12.72,13.03,13.34,13.65,13.96,14.27,14.58,14.89,15.2,15.51,15.82,16.13,16.44,16.75,17.06,17.37,17.68,17.99,18.3,18.61,18.92,19.23,19.54,19.85,20.16,20.47,20.78,21.09,21.4,21.71,22.02,22.33,22.64,22.95,23.26,23.57,23.88,24.19,24.5,24.81,25.12], "labels": false, "tickSize": 4, "title": null}},
     "y": {"field": "y", "type": "quantitative", "scale": {"domain": [0, 1], "nice": false, "zero": false}, "axis": {"orient": "right", "values": [0,0.1,0.2,0.3,0.4,0.5,0.6,0.7,0.8,0.9,1], "labels": false, "tickSize": 5, "title": null}},
     "shape": {"field": "s", "type": "nominal", "scale": {"domain": ["o", "d"], "range": ["M-1,0A1,0.75,0,1,1,1,0A1,0.75,0,1,1,-1,0Z", "M-1,0L0,-0.9L1,0L0,0.9Z"]}, "legend": null}}},
   {"mark": {"type": "point", "filled": true, "fill": "white", "strokeWidth": 0, "opacity": 1, "size": 280},
    "encoding": {
     "x": {"field": "t", "type": "quantitative", "scale": {"domain": [-3.4, 26.66], "nice": false, "zero": false}, "axis": null},
     "y": {"field": "y", "type": "quantitative", "scale": {"domain": [0, 1], "nice": false, "zero": false}, "axis": null},
     "shape": {"field": "s", "type": "nominal", "scale": {"domain": ["o", "d"], "range": ["M-1,0A1,0.75,0,1,1,1,0A1,0.75,0,1,1,-1,0Z", "M-1,0L0,-0.9L1,0L0,0.9Z"]}, "legend": null}}},
   {"data": {"values": [{"t": -2.61, "y": 0.93, "label": "qNP"}]},
    "mark": {"type": "text", "align": "left", "baseline": "middle", "font": "Liberation Sans", "fontSize": 26, "fontWeight": "bold", "color": "#111"},
    "encoding": {"x": {"field": "t", "type": "quantitative", "scale": {"domain": [-3.4, 26.66], "nice": false, "zero": false}, "axis": null}, "y": {"field": "y", "type": "quantitative", "scale": {"domain": [0, 1], "nice": false, "zero": false}, "axis": null}, "text": {"field": "label"}}},
   {"data": {"values": [{"t": 12.25, "y1": 1.243, "y2": 1.068, "yh": 1.13}]},
    "mark": {"type": "rule", "stroke": "#111", "strokeWidth": 1.5},
    "encoding": {"x": {"field": "t", "type": "quantitative", "scale": {"domain": [-3.4, 26.66], "nice": false, "zero": false}, "axis": null}, "y": {"field": "y1", "type": "quantitative", "scale": {"domain": [0, 1], "nice": false, "zero": false}, "axis": null}, "y2": {"field": "y2"}}},
   {"data": {"values": [{"t": 12.25, "y1": 1.243, "y2": 1.068, "yh": 1.13}]},
    "mark": {"type": "point", "shape": "M-0.45,-1L0.45,-1L0,1Z", "size": 1225, "filled": false, "stroke": "#111", "strokeWidth": 2, "opacity": 1},
    "encoding": {"x": {"field": "t", "type": "quantitative", "scale": {"domain": [-3.4, 26.66], "nice": false, "zero": false}, "axis": null}, "y": {"field": "yh", "type": "quantitative", "scale": {"domain": [0, 1], "nice": false, "zero": false}, "axis": null}}}
  ],
  "resolve": {"axis": {"x": "independent", "y": "independent"}}
 },
 {"width": 10, "height": 53, "data": {"values": [{"a": 1}]}, "mark": {"type": "point", "opacity": 0}, "encoding": {}, "view": {"stroke": null}},
 {"width": 10, "height": 53, "data": {"values": [{"a": 1}]}, "mark": {"type": "point", "opacity": 0}, "encoding": {}, "view": {"stroke": null}},
 {
  "width": 676, "height": 288,
  "data": {"name": "cps"},
  "transform": [{"fold": ["o", "d"], "as": ["s", "y"]}],
  "layer": [
   {"mark": {"type": "line", "stroke": "#555", "strokeWidth": 0.8},
    "encoding": {
     "x": {"field": "t", "type": "quantitative", "scale": {"domain": [-4.11, 27.18], "nice": false, "zero": false}, "axis": {"orient": "bottom", "values": [-1.87,-1.57,-1.27,-0.97,-0.67,-0.37,-0.07,0.23,0.53,0.83,1.13,1.43,1.73,2.03,2.33,2.63,2.93,3.23,3.53,3.83,4.13,4.43,4.73,5.03,5.33,5.63,5.93,6.23,6.53,6.83,7.13,7.43,7.73,8.03,8.33,8.63,8.93,9.23,9.53,9.83,10.13,10.43,10.73,11.03,11.33,11.63,11.93,12.23,12.37,12.685,13.0,13.315,13.63,13.945,14.26,14.575,14.89,15.205,15.52,15.835,16.15,16.465,16.78,17.095,17.41,17.725,18.04,18.355,18.67,18.985,19.3,19.615,19.93,20.245,20.56,20.875,21.19,21.505,21.82,22.135,22.45,22.765,23.08,23.395,23.71,24.025,24.34,24.655,24.97,25.285,25.6,0.1,5.6,12.3,17.8,24.5], "tickSize": 5, "labelPadding": 23, "labelFontSize": 24, "labelExpr": "indexof([0.1, 5.6, 12.3, 17.8, 24.5], datum.value) >= 0 ? replace(format(datum.value, '.1f'), '.', '\u2004') : ''", "title": null}},
     "y": {"field": "y", "type": "quantitative", "scale": {"domain": [0, 1], "nice": false, "zero": false}, "axis": {"orient": "left", "values": [0,0.1,0.2,0.3,0.4,0.5,0.6,0.7,0.8,0.9,1], "tickSize": 5, "labelPadding": 17, "labelFontSize": 24, "labelExpr": "datum.value == 0 ? '0' : (round(datum.value * 10) % 2 == 0 ? replace(format(datum.value, '.1f'), '.', '\u2004') : '')", "title": null}},
     "detail": {"field": "s", "type": "nominal"}}},
   {"mark": {"type": "point", "filled": true, "fill": "white", "stroke": "#222", "strokeWidth": 1, "opacity": 1},
    "encoding": {
     "x": {"field": "t", "type": "quantitative", "scale": {"domain": [-4.11, 27.18], "nice": false, "zero": false}, "axis": {"orient": "top", "values": [-1.87,-1.57,-1.27,-0.97,-0.67,-0.37,-0.07,0.23,0.53,0.83,1.13,1.43,1.73,2.03,2.33,2.63,2.93,3.23,3.53,3.83,4.13,4.43,4.73,5.03,5.33,5.63,5.93,6.23,6.53,6.83,7.13,7.43,7.73,8.03,8.33,8.63,8.93,9.23,9.53,9.83,10.13,10.43,10.73,11.03,11.33,11.63,11.93,12.23,12.37,12.685,13.0,13.315,13.63,13.945,14.26,14.575,14.89,15.205,15.52,15.835,16.15,16.465,16.78,17.095,17.41,17.725,18.04,18.355,18.67,18.985,19.3,19.615,19.93,20.245,20.56,20.875,21.19,21.505,21.82,22.135,22.45,22.765,23.08,23.395,23.71,24.025,24.34,24.655,24.97,25.285,25.6], "labels": false, "tickSize": 4, "title": null}},
     "y": {"field": "y", "type": "quantitative", "scale": {"domain": [0, 1], "nice": false, "zero": false}, "axis": {"orient": "right", "values": [0,0.1,0.2,0.3,0.4,0.5,0.6,0.7,0.8,0.9,1], "labels": false, "tickSize": 5, "title": null}},
     "shape": {"field": "s", "type": "nominal", "scale": {"domain": ["o", "d"], "range": ["circle", "diamond"]}, "legend": null},
     "size": {"field": "s", "type": "nominal", "scale": {"domain": ["o", "d"], "range": [270, 330]}, "legend": null}}},
   {"data": {"values": [{"t": -3.46, "y": 0.896, "label": "ΦPSII"}]},
    "mark": {"type": "text", "align": "left", "baseline": "middle", "font": "Liberation Sans", "fontSize": 24, "fontWeight": "bold", "color": "#111"},
    "encoding": {"x": {"field": "t", "type": "quantitative", "scale": {"domain": [-4.11, 27.18], "nice": false, "zero": false}, "axis": null}, "y": {"field": "y", "type": "quantitative", "scale": {"domain": [0, 1], "nice": false, "zero": false}, "axis": null}, "text": {"field": "label"}}},
   {"data": {"values": [{"t": 12.35, "y1": 0.917, "y2": 0.69, "yh": 0.751}]},
    "mark": {"type": "rule", "stroke": "#111", "strokeWidth": 1.5},
    "encoding": {"x": {"field": "t", "type": "quantitative", "scale": {"domain": [-4.11, 27.18], "nice": false, "zero": false}, "axis": null}, "y": {"field": "y1", "type": "quantitative", "scale": {"domain": [0, 1], "nice": false, "zero": false}, "axis": null}, "y2": {"field": "y2"}}},
   {"data": {"values": [{"t": 12.35, "y1": 0.917, "y2": 0.69, "yh": 0.751}]},
    "mark": {"type": "point", "shape": "M-0.45,-1L0.45,-1L0,1Z", "size": 1225, "filled": false, "stroke": "#111", "strokeWidth": 2, "opacity": 1},
    "encoding": {"x": {"field": "t", "type": "quantitative", "scale": {"domain": [-4.11, 27.18], "nice": false, "zero": false}, "axis": null}, "y": {"field": "yh", "type": "quantitative", "scale": {"domain": [0, 1], "nice": false, "zero": false}, "axis": null}}}
  ],
  "resolve": {"axis": {"x": "independent", "y": "independent"}}
 },
 {
  "width": 721, "height": 296,
  "data": {"name": "sps"},
  "transform": [{"fold": ["o", "d"], "as": ["s", "y"]}],
  "layer": [
   {"mark": {"type": "line", "stroke": "#555", "strokeWidth": 0.8},
    "encoding": {
     "x": {"field": "t", "type": "quantitative", "scale": {"domain": [-3.4, 26.66], "nice": false, "zero": false}, "axis": {"orient": "bottom", "values": [-1.27,-0.96,-0.65,-0.34,-0.03,0.28,0.59,0.9,1.21,1.52,1.83,2.14,2.45,2.76,3.07,3.38,3.69,4.0,4.31,4.62,4.93,5.24,5.55,5.86,6.17,6.48,6.79,7.1,7.41,7.72,8.03,8.34,8.65,8.96,9.27,9.58,9.89,10.2,10.51,10.82,11.13,11.44,11.75,12.06,12.31,12.41,12.72,13.03,13.34,13.65,13.96,14.27,14.58,14.89,15.2,15.51,15.82,16.13,16.44,16.75,17.06,17.37,17.68,17.99,18.3,18.61,18.92,19.23,19.54,19.85,20.16,20.47,20.78,21.09,21.4,21.71,22.02,22.33,22.64,22.95,23.26,23.57,23.88,24.19,24.5,24.81,25.12,0.1,5.6,12.3,17.8], "tickSize": 5, "labelPadding": 16, "labelFontSize": 24, "labelExpr": "indexof([0.1, 5.6, 12.3, 17.8, 24.5], datum.value) >= 0 ? replace(format(datum.value, '.1f'), '.', '\u2004') : ''", "title": "Time (min)", "titleX": -195, "titleY": 34, "titleAlign": "left", "titleBaseline": "middle", "titleAngle": 0, "titleFont": "Liberation Sans", "titleFontSize": 32, "titleFontWeight": "normal"}},
     "y": {"field": "y", "type": "quantitative", "scale": {"domain": [0, 1], "nice": false, "zero": false}, "axis": {"orient": "left", "values": [0,0.1,0.2,0.3,0.4,0.5,0.6,0.7,0.8,0.9,1], "tickSize": 5, "labelPadding": 23, "labelFontSize": 24, "labelExpr": "datum.value == 0 ? '0' : (round(datum.value * 10) % 2 == 0 ? replace(format(datum.value, '.1f'), '.', '\u2004') : '')", "title": null}},
     "detail": {"field": "s", "type": "nominal"}}},
   {"mark": {"type": "point", "filled": true, "fill": "#111", "stroke": "#111", "strokeWidth": 6, "opacity": 1, "size": 280},
    "encoding": {
     "x": {"field": "t", "type": "quantitative", "scale": {"domain": [-3.4, 26.66], "nice": false, "zero": false}, "axis": {"orient": "top", "values": [-1.27,-0.96,-0.65,-0.34,-0.03,0.28,0.59,0.9,1.21,1.52,1.83,2.14,2.45,2.76,3.07,3.38,3.69,4.0,4.31,4.62,4.93,5.24,5.55,5.86,6.17,6.48,6.79,7.1,7.41,7.72,8.03,8.34,8.65,8.96,9.27,9.58,9.89,10.2,10.51,10.82,11.13,11.44,11.75,12.06,12.31,12.41,12.72,13.03,13.34,13.65,13.96,14.27,14.58,14.89,15.2,15.51,15.82,16.13,16.44,16.75,17.06,17.37,17.68,17.99,18.3,18.61,18.92,19.23,19.54,19.85,20.16,20.47,20.78,21.09,21.4,21.71,22.02,22.33,22.64,22.95,23.26,23.57,23.88,24.19,24.5,24.81,25.12], "labels": false, "tickSize": 4, "title": null}},
     "y": {"field": "y", "type": "quantitative", "scale": {"domain": [0, 1], "nice": false, "zero": false}, "axis": {"orient": "right", "values": [0,0.1,0.2,0.3,0.4,0.5,0.6,0.7,0.8,0.9,1], "labels": false, "tickSize": 5, "title": null}},
     "shape": {"field": "s", "type": "nominal", "scale": {"domain": ["o", "d"], "range": ["M-1,0A1,0.75,0,1,1,1,0A1,0.75,0,1,1,-1,0Z", "M-1,0L0,-0.9L1,0L0,0.9Z"]}, "legend": null}}},
   {"mark": {"type": "point", "filled": true, "fill": "white", "strokeWidth": 0, "opacity": 1, "size": 280},
    "encoding": {
     "x": {"field": "t", "type": "quantitative", "scale": {"domain": [-3.4, 26.66], "nice": false, "zero": false}, "axis": null},
     "y": {"field": "y", "type": "quantitative", "scale": {"domain": [0, 1], "nice": false, "zero": false}, "axis": null},
     "shape": {"field": "s", "type": "nominal", "scale": {"domain": ["o", "d"], "range": ["M-1,0A1,0.75,0,1,1,1,0A1,0.75,0,1,1,-1,0Z", "M-1,0L0,-0.9L1,0L0,0.9Z"]}, "legend": null}}},
   {"data": {"values": [{"t": -2.73, "y": 0.89, "label": "ΦPSII"}]},
    "mark": {"type": "text", "align": "left", "baseline": "middle", "font": "Liberation Sans", "fontSize": 26, "fontWeight": "bold", "color": "#111"},
    "encoding": {"x": {"field": "t", "type": "quantitative", "scale": {"domain": [-3.4, 26.66], "nice": false, "zero": false}, "axis": null}, "y": {"field": "y", "type": "quantitative", "scale": {"domain": [0, 1], "nice": false, "zero": false}, "axis": null}, "text": {"field": "label"}}},
   {"data": {"values": [{"t": 12.05, "y1": 0.909, "y2": 0.75, "yh": 0.809}]},
    "mark": {"type": "rule", "stroke": "#111", "strokeWidth": 1.5},
    "encoding": {"x": {"field": "t", "type": "quantitative", "scale": {"domain": [-3.4, 26.66], "nice": false, "zero": false}, "axis": null}, "y": {"field": "y1", "type": "quantitative", "scale": {"domain": [0, 1], "nice": false, "zero": false}, "axis": null}, "y2": {"field": "y2"}}},
   {"data": {"values": [{"t": 12.05, "y1": 0.909, "y2": 0.75, "yh": 0.809}]},
    "mark": {"type": "point", "shape": "M-0.45,-1L0.45,-1L0,1Z", "size": 1225, "filled": false, "stroke": "#111", "strokeWidth": 2, "opacity": 1},
    "encoding": {"x": {"field": "t", "type": "quantitative", "scale": {"domain": [-3.4, 26.66], "nice": false, "zero": false}, "axis": null}, "y": {"field": "yh", "type": "quantitative", "scale": {"domain": [0, 1], "nice": false, "zero": false}, "axis": null}}}
  ],
  "resolve": {"axis": {"x": "independent", "y": "independent"}}
 }
]
}
